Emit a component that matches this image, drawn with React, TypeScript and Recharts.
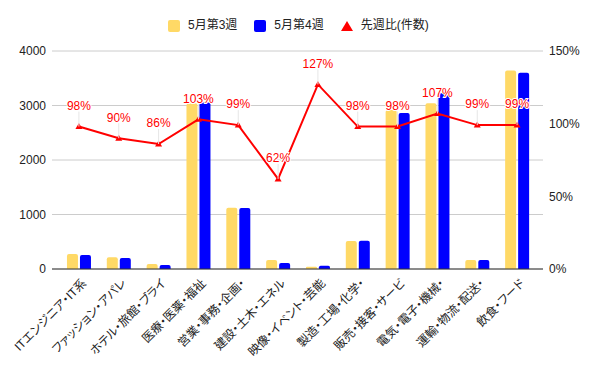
import React from "react";
import {
  ComposedChart,
  Bar,
  Line,
  XAxis,
  YAxis,
  CartesianGrid,
} from "recharts";

const categories = [
  "ITエンジニア・IT系",
  "ファッション・アパレ",
  "ホテル・旅館・ブライ",
  "医療・医薬・福祉",
  "営業・事務・企画・",
  "建設・土木・エネル",
  "映像・イベント・芸能",
  "製造・工場・化学・",
  "販売・接客・サービ",
  "電気・電子・機械・",
  "運輸・物流・配送・",
  "飲食・フード",
];
const week3 = [275, 214, 92, 3040, 1125, 165, 42, 514, 2917, 3040, 165, 3640];
const week4 = [257, 202, 73, 3055, 1120, 110, 60, 520, 2862, 3223, 165, 3600];
const ratio = [98, 90, 86, 103, 99, 62, 127, 98, 98, 107, 99, 99];

const leftTicks = [0, 1000, 2000, 3000, 4000];
const rightTicks = [0, 50, 100, 150];

const seriesNames = ["5月第3週", "5月第4週", "先週比(件数)"];

const YELLOW = "#ffd966";
const BLUE = "#0000ff";
const RED = "#ff0000";
const FONT = "Arial, 'Liberation Sans', 'Noto Sans CJK JP', sans-serif";

const data = categories.map((name, i) => ({
  name,
  w3: week3[i],
  w4: week4[i],
  ratio: ratio[i],
}));

const TriangleDot = (props: any) => {
  const { cx, cy } = props;
  if (cx == null || cy == null) return null;
  return (
    <polygon
      points={`${cx},${cy - 3.5} ${cx - 3.5},${cy + 2.5} ${cx + 3.5},${cy + 2.5}`}
      fill={RED}
    />
  );
};

const RatioLabel = (props: any) => {
  const { x, y, value } = props;
  return (
    <g>
      <line x1={x} y1={y - 15} x2={x} y2={y} stroke="#e6e6e6" strokeWidth={1} />
      <text
        x={x}
        y={y - 21}
        dy="0.36em"
        textAnchor="middle"
        fontSize={12}
        fontFamily={FONT}
        fill={RED}
        stroke="#fff"
        strokeWidth={2}
        paintOrder="stroke"
      >
        {value}%
      </text>
    </g>
  );
};

const CategoryTick = (props: any) => {
  const { x, y, payload } = props;
  return (
    <text
      transform={`translate(${x + 5},${y + 4}) rotate(-45)`}
      textAnchor="end"
      dy="0.36em"
      fontSize={12}
      fontFamily={FONT}
      fill="#222"
      style={{ fontFeatureSettings: '"palt"' }}
    >
      {payload.value}
    </text>
  );
};

function LegendBar() {
  const item = (i: number, marker: React.ReactNode) => (
    <div style={{ display: "flex", alignItems: "center" }}>
      {marker}
      <span style={{ marginLeft: 8 }}>{seriesNames[i]}</span>
    </div>
  );
  return (
    <div
      style={{
        position: "absolute",
        left: 168,
        top: 17,
        display: "flex",
        gap: 17,
        fontSize: 12,
        fontFamily: FONT,
        color: "#222",
        lineHeight: "17px",
      }}
    >
      {item(0, <div style={{ width: 12, height: 12, background: YELLOW, borderRadius: 2 }} />)}
      {item(1, <div style={{ width: 12, height: 12, background: BLUE, borderRadius: 2 }} />)}
      {item(
        2,
        <svg width={12} height={12}>
          <polygon points="6,1 0,11 12,11" fill={RED} />
        </svg>
      )}
    </div>
  );
}

export default function App() {
  return (
    <div style={{ position: "absolute", left: 0, top: 0, width: 600, height: 371, background: "#fff" }}>
      <LegendBar />
      <ComposedChart
        width={600}
        height={371}
        data={data}
        margin={{ top: 51, right: 0, bottom: 0, left: 0 }}
        barCategoryGap="20%"
        barGap={2}
      >
        <CartesianGrid vertical={false} stroke="#cccccc" yAxisId="left" />
        <XAxis
          dataKey="name"
          interval={0}
          height={102}
          padding={{ left: 7, right: 6 }}
          tickLine={false}
          axisLine={{ stroke: "#333", strokeWidth: 1 }}
          tick={<CategoryTick />}
        />
        <YAxis
          yAxisId="left"
          width={52}
          domain={[0, 4000]}
          ticks={leftTicks}
          axisLine={false}
          tickLine={false}
          tickSize={4}
          tickMargin={2}
          tick={{ fontSize: 12, fill: "#222", fontFamily: FONT }}
        />
        <YAxis
          yAxisId="right"
          orientation="right"
          width={57}
          domain={[0, 150]}
          ticks={rightTicks}
          tickFormatter={(v: number) => `${v}%`}
          axisLine={false}
          tickLine={false}
          tickSize={4}
          tickMargin={2}
          tick={{ fontSize: 12, fill: "#222", fontFamily: FONT }}
        />
        <Bar yAxisId="left" dataKey="w3" name={seriesNames[0]} fill={YELLOW} radius={[2, 2, 0, 0]} isAnimationActive={false} />
        <Bar yAxisId="left" dataKey="w4" name={seriesNames[1]} fill={BLUE} radius={[2, 2, 0, 0]} isAnimationActive={false} />
        <Line
          yAxisId="right"
          dataKey="ratio"
          name={seriesNames[2]}
          type="linear"
          stroke={RED}
          strokeWidth={2}
          dot={<TriangleDot />}
          activeDot={false}
          label={<RatioLabel />}
          isAnimationActive={false}
        />
      </ComposedChart>
    </div>
  );
}
